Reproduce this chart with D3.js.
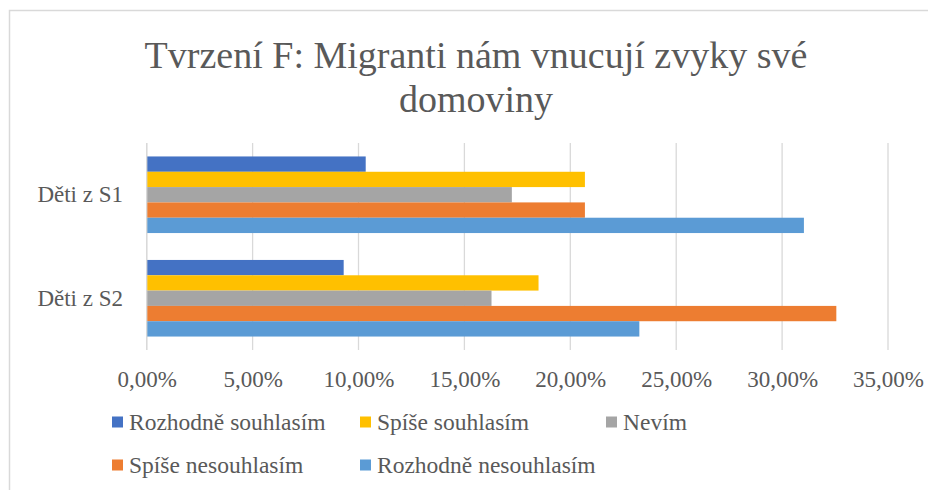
<!DOCTYPE html>
<html><head><meta charset="utf-8">
<script src="https://cdn.jsdelivr.net/npm/d3@7"></script>
</head>
<body><svg id="c" width="928" height="490"></svg>
<script>
const titleLines = ["Tvrzení F: Migranti nám vnucují zvyky své", "domoviny"];
const categories = ["Děti z S1", "Děti z S2"];
const seriesNames = ["Rozhodně souhlasím", "Spíše souhlasím", "Nevím", "Spíše nesouhlasím", "Rozhodně nesouhlasím"];
const seriesColors = ["#4472C4", "#FFC000", "#A5A5A5", "#ED7D31", "#5B9BD5"];
const rozhodneSouhlasim = [0.1034, 0.0930];
const spiseSouhlasim = [0.2069, 0.1850];
const nevim = [0.1724, 0.1628];
const spiseNesouhlasim = [0.2069, 0.3256];
const rozhodneNesouhlasim = [0.3103, 0.2326];
const tickValues = [0, 0.05, 0.10, 0.15, 0.20, 0.25, 0.30, 0.35];

const FONT = "Liberation Serif";
const TXT = "#595959";
const seriesValues = [rozhodneSouhlasim, spiseSouhlasim, nevim, spiseNesouhlasim, rozhodneNesouhlasim];

d3.select("body").style("margin", "0").style("background", "#fff");
const svg = d3.select("#c").style("display", "block")
  .attr("font-family", FONT).style("font-family", `"${FONT}"`);

function serif(sel, size) {
  return sel.attr("font-family", FONT).style("font-family", `"${FONT}"`)
    .attr("font-size", size).style("font-size", size + "px")
    .attr("fill", TXT).style("fill", TXT);
}

// chart border
svg.append("rect").attr("x", 9.5).attr("y", 10.5).attr("width", 1000).attr("height", 1000)
  .attr("fill", "none").attr("stroke", "#d9d9d9").attr("stroke-width", 1.5);

// title
titleLines.forEach((t, i) => {
  serif(svg.append("text"), 38).attr("text-anchor", "middle")
    .attr("x", 476).attr("y", 68 + i * 44).text(t);
});

const x = d3.scaleLinear().domain([0, 0.35]).range([146.7, 888]);
const y = d3.scaleBand().domain(categories).range([143, 350]).paddingInner(0.26).paddingOuter(0.13);
const ySub = d3.scaleBand().domain(seriesNames).range([0, y.bandwidth()]).padding(0);

const czLocale = d3.formatLocale({decimal: ",", thousands: " ", grouping: [3], currency: ["", " Kč"]});
const fmt = czLocale.format(".2%");

// gridlines
svg.append("g").selectAll("line").data(tickValues).join("line")
  .attr("x1", d => x(d)).attr("x2", d => x(d)).attr("y1", 143).attr("y2", 350)
  .attr("stroke", "#d9d9d9").attr("stroke-width", 1.3);

// x axis labels via d3 axis
const xAxis = svg.append("g").attr("transform", "translate(0,387)")
  .call(d3.axisBottom(x).tickValues(tickValues).tickFormat(fmt).tickSize(0).tickPadding(0));
xAxis.attr("font-family", FONT).attr("font-size", 23);
xAxis.select(".domain").remove();
serif(xAxis.selectAll("text").attr("dy", null).attr("y", 0), 23);

// bars
const groups = svg.append("g").selectAll("g").data(categories).join("g")
  .attr("transform", c => `translate(0,${y(c)})`);
groups.selectAll("rect").data((c, ci) => seriesNames.map((s, si) => ({s, si, v: seriesValues[si][ci]})))
  .join("rect")
  .attr("x", x(0)).attr("y", d => ySub(d.s)).attr("height", ySub.bandwidth())
  .attr("width", d => x(d.v) - x(0)).attr("fill", d => seriesColors[d.si]);

// y axis line
svg.append("line").attr("x1", x(0)).attr("x2", x(0)).attr("y1", 143).attr("y2", 350)
  .attr("stroke", "#d9d9d9").attr("stroke-width", 1.3);

// category labels
const yAxis = svg.append("g").attr("transform", "translate(123,0)")
  .call(d3.axisLeft(y).tickSize(0).tickPadding(0));
yAxis.attr("font-family", FONT).attr("font-size", 23);
yAxis.select(".domain").remove();
serif(yAxis.selectAll("text").attr("dy", "0.33em"), 23);

// legend
const legX = [112, 360, 606];
const legY = [422, 465];
const leg = svg.append("g").selectAll("g").data(seriesNames).join("g")
  .attr("transform", (d, i) => `translate(${legX[i % 3]},${legY[Math.floor(i / 3)]})`);
leg.append("rect").attr("x", 0).attr("y", -5.5).attr("width", 11).attr("height", 11)
  .attr("fill", (d, i) => seriesColors[i]);
serif(leg.append("text"), 23.5).attr("x", 17).attr("y", 0).attr("dy", "0.33em").text(d => d);
</script></body></html>
